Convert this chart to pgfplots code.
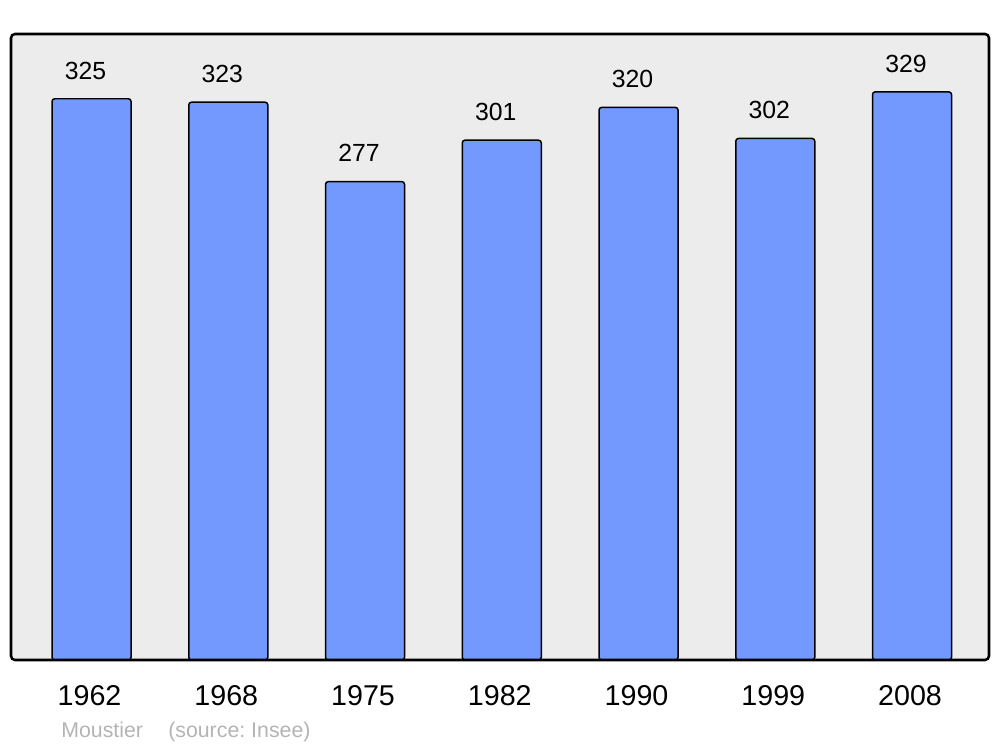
\documentclass[border=0pt]{standalone}
\usepackage{fontspec}
\setmainfont{Liberation Sans}
\usepackage{pgfplots}
\pgfplotsset{compat=1.18}
\definecolor{barblue}{RGB}{115,153,255}
\definecolor{bgc}{RGB}{236,236,236}
\definecolor{srcgray}{RGB}{180,180,180}
\frenchspacing
\begin{document}
\begin{tikzpicture}
\path[use as bounding box] (-8.25pt,-65.25pt) rectangle (741.75pt,495pt);
\begin{axis}[
 at={(0pt,0pt)}, anchor=south west,
 scale only axis, width=733.5pt, height=469.5pt,
 xmin=-0.589, xmax=6.563, ymin=0, ymax=362.5,
 axis line style={draw=none},
 axis background/.style={fill=bgc, rounded corners=3pt},
 ytick=\empty,
 xtick={0,...,6}, xticklabels={1962,1968,1975,1982,1990,1999,2008},
 major tick length=0pt,
 xticklabel style={font=\fontsize{21.5}{21.5}\selectfont, anchor=base, yshift=-33.75pt, xshift=-1.5pt},
 /pgf/number format/assume math mode=true,
 ybar, bar width=59.25pt, bar shift=0pt,
 nodes near coords,
 nodes near coords style={font=\fontsize{18.6}{18.6}\selectfont, anchor=base, yshift=14.8pt, xshift=-4.5pt},
 clip=false,
]
\addplot[fill=barblue, draw=black, line width=1.1pt, rounded corners=2pt] coordinates {(0,325) (1,323) (2,277) (3,301) (4,320) (5,302) (6,329)};
\draw[line width=1.9pt, rounded corners=3pt] (rel axis cs:0,0) rectangle (rel axis cs:1,1);
\node[anchor=base west, text=srcgray, font=\fontsize{16}{16}\selectfont, inner sep=0pt] at ([shift={(37.5pt,-58pt)}]rel axis cs:0,0) {Moustier\hspace{18.9pt}(source: Insee)};
\end{axis}
\end{tikzpicture}
\end{document}
